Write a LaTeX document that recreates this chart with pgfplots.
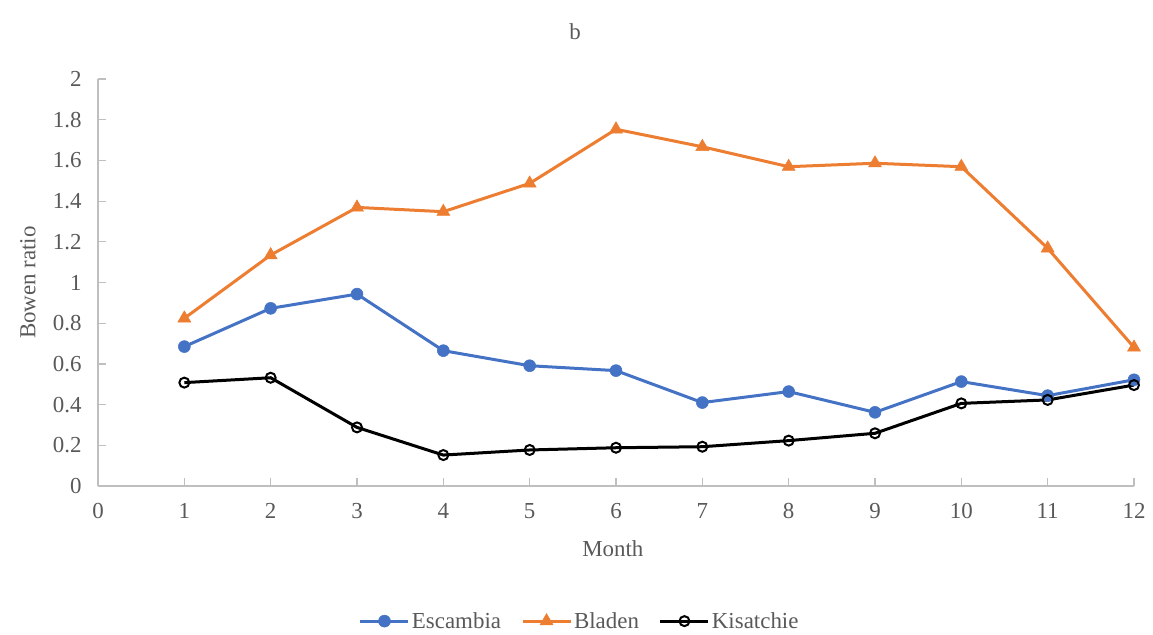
\documentclass[border=0pt]{standalone}
\usepackage{pgfplots}
\pgfplotsset{compat=1.18}
\usepackage{fontspec}
\setmainfont{Liberation Serif}
\definecolor{escblue}{HTML}{4472C4}
\definecolor{bldorange}{HTML}{ED7D31}
\definecolor{txtgray}{HTML}{595959}
\definecolor{axgray}{HTML}{BFBFBF}
\newcommand{\chartfont}{\fontsize{23}{27}\selectfont}
\begin{document}
\begin{tikzpicture}
\useasboundingbox (-98bp,-149bp) rectangle (1055bp,486bp);
\begin{axis}[
  at={(0,0)}, anchor=south west,
  scale only axis, width=1036bp, height=407bp,
  xmin=0, xmax=12, ymin=0, ymax=2,
  xtick={0,1,...,12}, ytick={0,0.2,...,2.01},
  yticklabels={0,0.2,0.4,0.6,0.8,1,1.2,1.4,1.6,1.8,2},
  axis x line*=bottom, axis y line*=left,
  axis line style={draw=axgray, line width=1.5bp},
  x axis line style={-}, y axis line style={-},
  tick align=inside, major tick length=8bp,
  every x tick/.style={draw=axgray, line width=1.2bp},
  every y tick/.style={draw=axgray, line width=1.2bp},
  /pgf/number format/assume math mode=true,
  ticklabel style={font=\chartfont, text=txtgray},
  xticklabel style={yshift=-13.5bp},
  yticklabel style={xshift=-13bp},
  xlabel={Month}, ylabel={Bowen ratio},
  label style={font=\chartfont, text=txtgray},
  xlabel style={at={(axis description cs:0.497,-0.155)}, anchor=center},
  ylabel style={at={(axis description cs:-0.0676,0.5)}, anchor=center},
  clip=false,
  legend columns=3,
  legend style={draw=none, fill=none, at={(axis description cs:0.465,-0.332)}, anchor=center,
    font=\chartfont, text=txtgray,
    nodes={inner xsep=2bp},
    /tikz/every even column/.append style={column sep=18bp}},
  legend image code/.code={
    \draw[mark repeat=2, mark phase=2] plot coordinates {(0bp,0bp) (24bp,0bp) (48bp,0bp)};
  },
]
\addplot[escblue, line width=3bp, mark=*, mark size=6bp, mark options={fill=escblue, draw=escblue, line width=0.5bp}]
  coordinates {(1,0.685) (2,0.873) (3,0.943) (4,0.665) (5,0.591) (6,0.567)
               (7,0.410) (8,0.464) (9,0.362) (10,0.513) (11,0.444) (12,0.522)};
\addlegendentry{Escambia}
\addplot[bldorange, line width=3bp, mark=triangle*, mark size=7.5bp, mark options={fill=bldorange, draw=bldorange, line width=0.5bp}]
  coordinates {(1,0.824) (2,1.135) (3,1.369) (4,1.348) (5,1.487) (6,1.753)
               (7,1.667) (8,1.569) (9,1.586) (10,1.569) (11,1.168) (12,0.681)};
\addlegendentry{Bladen}
\addplot[black, line width=3bp, mark=o, mark size=5bp, mark options={fill=white, draw=black, line width=2bp}]
  coordinates {(1,0.508) (2,0.532) (3,0.288) (4,0.152) (5,0.177) (6,0.188)
               (7,0.193) (8,0.223) (9,0.259) (10,0.406) (11,0.423) (12,0.496)};
\addlegendentry{Kisatchie}
\node[text=txtgray, font=\chartfont] at (axis description cs:0.4604,1.1155) {b};
\end{axis}
\end{tikzpicture}
\end{document}
